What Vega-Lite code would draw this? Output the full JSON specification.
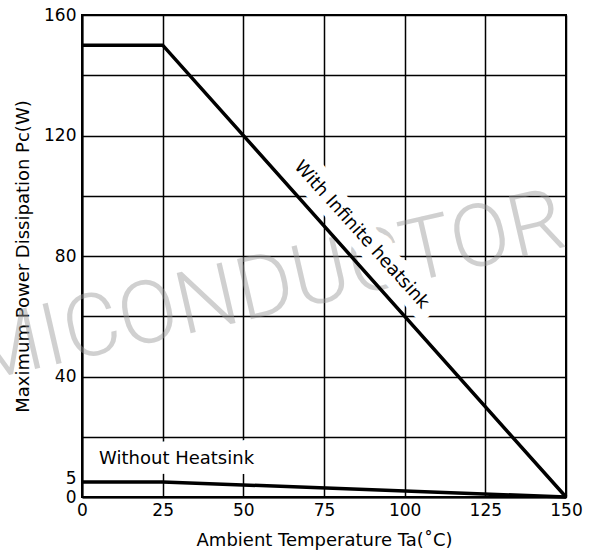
{
  "$schema": "https://vega.github.io/schema/vega-lite/v6.json",
  "width": 484,
  "height": 482,
  "autosize": {"type": "none"},
  "padding": {"left": 82, "top": 15, "right": 27, "bottom": 63},
  "background": "white",
  "datasets": {
    "curves": [
      {"series": "With Infinite heatsink", "ta": 0, "pc": 150},
      {"series": "With Infinite heatsink", "ta": 25, "pc": 150},
      {"series": "With Infinite heatsink", "ta": 150, "pc": 0},
      {"series": "Without Heatsink", "ta": 0, "pc": 5},
      {"series": "Without Heatsink", "ta": 25, "pc": 5},
      {"series": "Without Heatsink", "ta": 150, "pc": 0}
    ]
  },
  "encoding": {
    "x": {
      "field": "ta",
      "type": "quantitative",
      "scale": {"domain": [0, 150], "nice": false, "zero": false},
      "axis": {
        "title": "Ambient Temperature Ta(˚C)",
        "values": [0, 25, 50, 75, 100, 125, 150],
        "grid": true,
        "gridColor": "black",
        "gridWidth": 1.5,
        "gridOpacity": 1,
        "ticks": false,
        "domainColor": "black",
        "domainWidth": 2,
        "labelFont": "DejaVu Sans",
        "labelFontSize": 17,
        "labelColor": "black",
        "labelPadding": 5,
        "labelFlush": false,
        "labelOverlap": false,
        "titleFont": "DejaVu Sans",
        "titleFontSize": 18,
        "titleFontWeight": "normal",
        "titleColor": "black",
        "titlePadding": 13
      }
    },
    "y": {
      "field": "pc",
      "type": "quantitative",
      "scale": {"domain": [0, 160], "nice": false, "zero": false},
      "axis": {
        "title": "Maximum Power Dissipation Pc(W)",
        "values": [0, 5, 20, 40, 60, 80, 100, 120, 140, 160],
        "labelExpr": "datum.value % 40 == 20 ? '' : datum.label",
        "labelOffset": {"condition": {"test": "datum.value == 5", "value": -3}, "value": 0},
        "grid": true,
        "gridColor": "black",
        "gridWidth": 1.5,
        "gridOpacity": {"condition": {"test": "datum.value == 5", "value": 0}, "value": 1},
        "ticks": false,
        "domainColor": "black",
        "domainWidth": 2,
        "labelFont": "DejaVu Sans",
        "labelFontSize": 17,
        "labelColor": "black",
        "labelPadding": 6,
        "labelFlush": false,
        "labelOverlap": false,
        "titleFont": "DejaVu Sans",
        "titleFontSize": 18,
        "titleFontWeight": "normal",
        "titleColor": "black",
        "titlePadding": 11
      }
    }
  },
  "layer": [
    {
      "data": {"values": [{"text": "MICONDUCTOR", "ta": 57, "pc": 69}]},
      "mark": {"type": "text", "font": "Roboto", "fontWeight": 300, "fontSize": 87, "angle": -13, "align": "center", "baseline": "middle", "fill": "#999999", "opacity": 0.45},
      "encoding": {"text": {"field": "text"}}
    },
    {
      "data": {"values": [{"label": "With Infinite heatsink", "ta": 86.6, "pc": 87.0}]},
      "mark": {"type": "text", "font": "DejaVu Sans", "fontSize": 18, "angle": 48, "align": "center", "baseline": "middle", "fill": "white", "stroke": "white", "strokeWidth": 20, "strokeJoin": "round"},
      "encoding": {"text": {"field": "label"}}
    },
    {
      "data": {"values": [{"label": "Without Heatsink", "ta": 5.3, "pc": 12.5}]},
      "mark": {"type": "text", "font": "DejaVu Sans", "fontSize": 18, "align": "left", "baseline": "middle", "fill": "white", "stroke": "white", "strokeWidth": 20, "strokeJoin": "round"},
      "encoding": {"text": {"field": "label"}}
    },
    {
      "data": {"name": "curves"},
      "mark": {"type": "line", "color": "black", "strokeWidth": 3.5, "strokeJoin": "miter"},
      "encoding": {"detail": {"field": "series"}}
    },
    {
      "data": {"values": [{"label": "With Infinite heatsink", "ta": 86.6, "pc": 87.0}]},
      "mark": {"type": "text", "font": "DejaVu Sans", "fontSize": 18, "angle": 48, "align": "center", "baseline": "middle", "fill": "black"},
      "encoding": {"text": {"field": "label"}}
    },
    {
      "data": {"values": [{"label": "Without Heatsink", "ta": 5.3, "pc": 12.5}]},
      "mark": {"type": "text", "font": "DejaVu Sans", "fontSize": 18, "align": "left", "baseline": "middle", "fill": "black"},
      "encoding": {"text": {"field": "label"}}
    }
  ],
  "config": {
    "view": {"stroke": "black", "strokeWidth": 2}
  }
}
